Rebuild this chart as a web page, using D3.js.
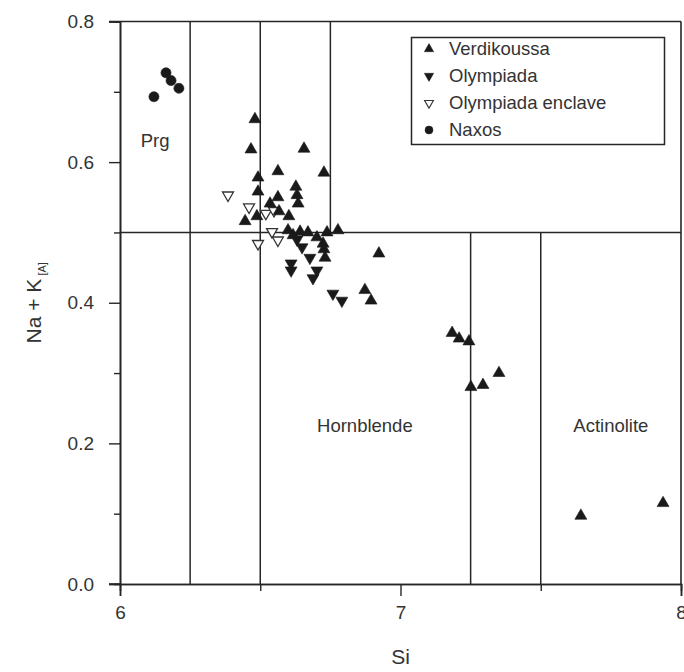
<!DOCTYPE html>
<html>
<head>
<meta charset="utf-8">
<script src="https://cdn.jsdelivr.net/npm/d3@7"></script>
<style>
  body { margin: 0; background: #fff; }
  svg { font-family: "Liberation Sans", Arial, sans-serif; }
</style>
</head>
<body>
<svg width="684" height="672"></svg>
<script>
// Si vs Na+K(A) values
var verdikoussa = [
  [6.481, 0.661], [6.467, 0.618], [6.656, 0.619], [6.563, 0.587], [6.492, 0.578],
  [6.727, 0.585], [6.492, 0.558], [6.627, 0.565], [6.563, 0.550], [6.631, 0.553],
  [6.635, 0.541], [6.535, 0.541], [6.488, 0.523], [6.446, 0.516], [6.602, 0.523],
  [6.567, 0.530], [6.599, 0.503], [6.642, 0.501], [6.670, 0.500], [6.702, 0.493],
  [6.738, 0.500], [6.777, 0.503], [6.724, 0.484], [6.727, 0.476], [6.731, 0.464],
  [6.923, 0.470], [6.873, 0.418], [6.895, 0.403], [7.184, 0.357], [7.209, 0.349],
  [7.244, 0.345], [7.251, 0.280], [7.294, 0.283], [7.351, 0.300], [7.643, 0.097],
  [7.936, 0.115], [6.617, 0.496]
];
var olympiada = [
  [6.649, 0.479], [6.677, 0.464], [6.610, 0.456], [6.610, 0.446], [6.702, 0.446],
  [6.688, 0.435], [6.759, 0.413], [6.791, 0.403], [6.631, 0.490]
];
var enclave = [
  [6.385, 0.553], [6.460, 0.536], [6.520, 0.527], [6.549, 0.531],
  [6.542, 0.501], [6.563, 0.489], [6.492, 0.484]
];
var naxos = [
  [6.121, 0.693], [6.164, 0.727], [6.182, 0.716], [6.210, 0.705]
];

var seriesNames = ["Verdikoussa", "Olympiada", "Olympiada enclave", "Naxos"];

// classification field boundaries [x1, y1, x2, y2]
var boundaries = [
  [6.25, 0, 6.25, 0.8],
  [6.5, 0, 6.5, 0.8],
  [6.75, 0.5, 6.75, 0.8],
  [6, 0.5, 8, 0.5],
  [7.25, 0, 7.25, 0.5],
  [7.5, 0, 7.5, 0.5]
];
var fieldNames = ["Prg", "Hornblende", "Actinolite"];
var fieldSpots = [[6.125, 0.631], [6.873, 0.226], [7.75, 0.226]];

var xMajor = [6, 7, 8];
var xMinor = [6.5, 7.5];
var yMajor = [0, 0.2, 0.4, 0.6, 0.8];
var yMinor = [0.1, 0.3, 0.5, 0.7];

var ink = "#262626";
var svg = d3.select("svg");

var x = d3.scaleLinear().domain([6, 8]).range([120, 681]);
var y = d3.scaleLinear().domain([0, 0.8]).range([584, 21.5]);

// frame: top and right sides
svg.append("line")
  .attr("x1", 109).attr("x2", x(8)).attr("y1", y(0.8)).attr("y2", y(0.8))
  .attr("stroke", ink).attr("stroke-width", 1.6);
svg.append("line")
  .attr("x1", x(8)).attr("x2", x(8)).attr("y1", y(0.8)).attr("y2", y(0))
  .attr("stroke", ink).attr("stroke-width", 1.6);

// axes
var styleAxis = function(g)
{
  g.attr("font-size", null).attr("font-family", null);
  g.select(".domain").attr("stroke", ink).attr("stroke-width", 1.6);
  g.selectAll(".tick line").attr("stroke", ink).attr("stroke-width", 1.4);
  g.selectAll(".tick text").attr("fill", "#333").style("font-size", "19px");
}

svg.append("g")
  .attr("transform", "translate(0," + y(0) + ")")
  .call(d3.axisBottom(x).tickValues(xMajor).tickSize(12).tickPadding(10).tickFormat(d3.format("d")))
  .call(styleAxis);
svg.append("g")
  .attr("transform", "translate(0," + y(0) + ")")
  .call(d3.axisBottom(x).tickValues(xMinor).tickSize(7).tickFormat(""))
  .call(styleAxis);
svg.append("g")
  .attr("transform", "translate(" + x(6) + ",0)")
  .call(d3.axisLeft(y).tickValues(yMajor).tickSize(11).tickPadding(15).tickFormat(d3.format(".1f")))
  .call(styleAxis);
svg.append("g")
  .attr("transform", "translate(" + x(6) + ",0)")
  .call(d3.axisLeft(y).tickValues(yMinor).tickSize(6).tickFormat(""))
  .call(styleAxis);

// bottom axis line extends left like the top one
svg.append("line")
  .attr("x1", 109).attr("x2", x(6)).attr("y1", y(0)).attr("y2", y(0))
  .attr("stroke", ink).attr("stroke-width", 1.6);

// field boundaries
svg.append("g")
  .selectAll("line")
  .data(boundaries)
  .enter()
  .append("line")
  .attr("x1", function(d) { return x(d[0]); })
  .attr("y1", function(d) { return y(d[1]); })
  .attr("x2", function(d) { return x(d[2]); })
  .attr("y2", function(d) { return y(d[3]); })
  .attr("stroke", ink)
  .attr("stroke-width", 1.5);

// field names
svg.append("g")
  .selectAll("text")
  .data(fieldNames)
  .enter()
  .append("text")
  .attr("x", function(d, i) { return x(fieldSpots[i][0]); })
  .attr("y", function(d, i) { return y(fieldSpots[i][1]); })
  .attr("dy", "0.35em")
  .attr("text-anchor", "middle")
  .attr("fill", "#333")
  .style("font-size", "18.5px")
  .text(function(d) { return d; });

// markers
var up = d3.symbol().type(d3.symbolTriangle).size(62);
var circ = d3.symbol().type(d3.symbolCircle).size(80);

var drawPoints = function(points, path, rotate, filled)
{
  svg.append("g")
    .selectAll("path")
    .data(points)
    .enter()
    .append("path")
    .attr("d", path)
    .attr("transform", function(d) {
      return "translate(" + x(d[0]) + "," + y(d[1]) + ")" + (rotate ? " rotate(180)" : "");
    })
    .attr("fill", filled ? "#1a1a1a" : "#fff")
    .attr("stroke", filled ? "#1a1a1a" : "#333")
    .attr("stroke-width", filled ? 0.6 : 1.3);
}

drawPoints(enclave, d3.symbol().type(d3.symbolTriangle).size(52)(), true, false);
drawPoints(olympiada, up(), true, true);
drawPoints(verdikoussa, up(), false, true);
drawPoints(naxos, circ(), false, true);

// legend
var legend = svg.append("g");
legend.append("rect")
  .attr("x", 411.5).attr("y", 37.5).attr("width", 253).attr("height", 107)
  .attr("fill", "#fff").attr("stroke", ink).attr("stroke-width", 1.5);

var legendSyms = [
  { path: d3.symbol().type(d3.symbolTriangle).size(38)(), rot: false, filled: true },
  { path: d3.symbol().type(d3.symbolTriangle).size(38)(), rot: true, filled: true },
  { path: d3.symbol().type(d3.symbolTriangle).size(34)(), rot: true, filled: false },
  { path: d3.symbol().type(d3.symbolCircle).size(50)(), rot: false, filled: true }
];

var rows = legend.selectAll("g.row")
  .data(seriesNames)
  .enter()
  .append("g")
  .attr("class", "row")
  .attr("transform", function(d, i) { return "translate(429," + (49 + i * 27) + ")"; });

rows.append("path")
  .attr("d", function(d, i) { return legendSyms[i].path; })
  .attr("transform", function(d, i) { return legendSyms[i].rot ? "rotate(180)" : ""; })
  .attr("fill", function(d, i) { return legendSyms[i].filled ? "#1a1a1a" : "#fff"; })
  .attr("stroke", function(d, i) { return legendSyms[i].filled ? "#1a1a1a" : "#333"; })
  .attr("stroke-width", function(d, i) { return legendSyms[i].filled ? 0.5 : 1.1; });

rows.append("text")
  .attr("x", 20)
  .attr("dy", "0.35em")
  .attr("fill", "#333")
  .style("font-size", "18.5px")
  .text(function(d) { return d; });

// axis titles
svg.append("text")
  .attr("x", x(7)).attr("y", 664)
  .attr("text-anchor", "middle")
  .attr("fill", "#333")
  .style("font-size", "21px")
  .text("Si");

var ylab = svg.append("text")
  .attr("transform", "translate(41," + y(0.4) + ") rotate(-90)")
  .attr("text-anchor", "middle")
  .attr("fill", "#333")
  .style("font-size", "21px");
ylab.append("tspan").text("Na + K");
ylab.append("tspan").attr("dy", "5").style("font-size", "11px").text(" [A]");
</script>
</body>
</html>
